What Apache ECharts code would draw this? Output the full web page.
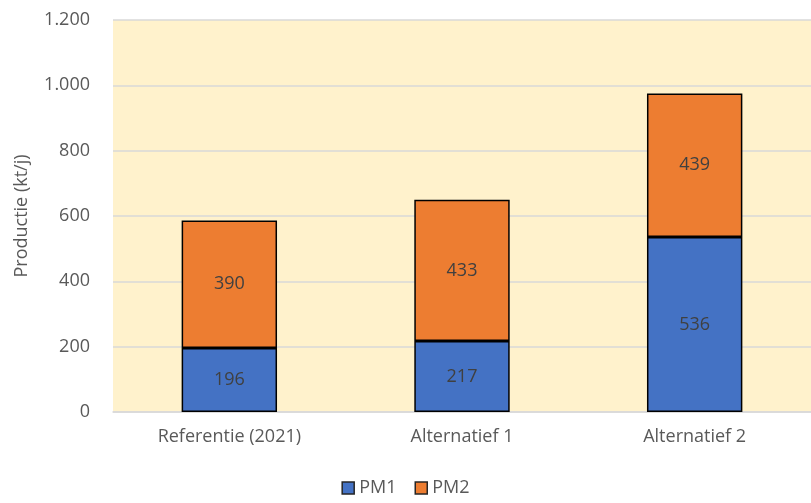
<!DOCTYPE html>
<html>
<head>
<meta charset="utf-8">
<script src="https://cdn.jsdelivr.net/npm/echarts@6/dist/echarts.min.js"></script>
<style>
  html, body { margin: 0; padding: 0; background: #ffffff; }
  #chart { width: 811px; height: 503px; }
</style>
</head>
<body>
<div id="chart"></div>
<script>
const categories = ["Referentie (2021)", "Alternatief 1", "Alternatief 2"];
const pm1 = [196, 217, 536];
const pm2 = [390, 433, 439];
const yTicks = [0, 200, 400, 600, 800, 1000, 1200];

const font = "'Open Sans', 'Noto Sans', sans-serif";

function fmt(value) {
  return String(value).replace(/\B(?=(\d{3})+(?!\d))/g, ".");
}

const chart = echarts.init(document.getElementById("chart"));

function barSeries(name, data, color) {
  return {
    name,
    type: "bar",
    stack: "total",
    barWidth: "41%",
    data,
    itemStyle: { color, borderColor: "#000000", borderWidth: 1.5 },
    label: {
      show: true,
      position: "inside",
      color: "#404040",
      fontSize: 18,
      fontFamily: font,
    },
  };
}

chart.setOption({
  animation: false,
  textStyle: { fontFamily: font },
  grid: { left: 113, right: 0, top: 20, bottom: 91, backgroundColor: "#FFF2CC", show: true, borderWidth: 0 },
  legend: {
    bottom: 1,
    left: "center",
    itemWidth: 12,
    itemHeight: 12,
    itemGap: 18,
    textStyle: { color: "#595959", fontSize: 18, fontFamily: font },
    data: [
      { name: "PM1", icon: "rect", itemStyle: { borderColor: "#262626", borderWidth: 1.5 } },
      { name: "PM2", icon: "rect", itemStyle: { borderColor: "#262626", borderWidth: 1.5 } },
    ],
  },
  xAxis: {
    type: "category",
    data: categories,
    axisLine: { lineStyle: { color: "#D9D9D9", width: 1.5 } },
    axisTick: { show: false },
    axisLabel: { color: "#595959", fontSize: 18, margin: 16 },
  },
  yAxis: {
    type: "value",
    min: yTicks[0],
    max: yTicks[yTicks.length - 1],
    interval: 200,
    name: "Productie (kt/j)",
    nameLocation: "middle",
    nameGap: 82,
    nameTextStyle: { color: "#595959", fontSize: 18 },
    axisLine: { show: false },
    axisTick: { show: false },
    axisLabel: { color: "#595959", fontSize: 18, margin: 23, formatter: fmt },
    splitLine: { lineStyle: { color: "#D9D9D9", width: 1.5 } },
  },
  series: [
    barSeries("PM1", pm1, "#4472C4"),
    barSeries("PM2", pm2, "#ED7D31"),
  ],
});
</script>
</body>
</html>
